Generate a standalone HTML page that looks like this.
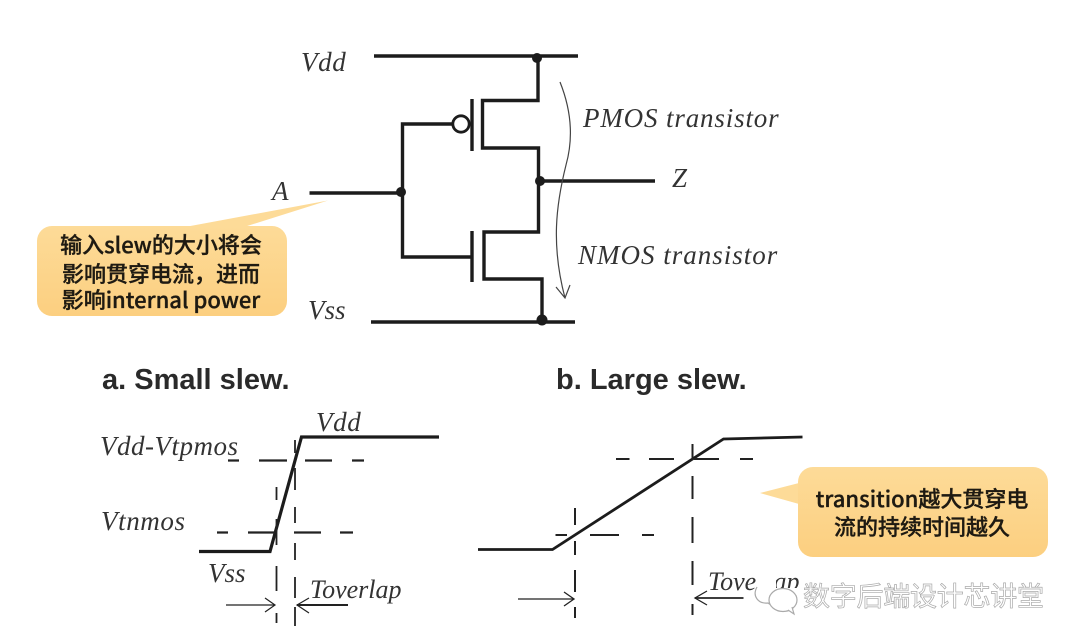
<!DOCTYPE html>
<html>
<head>
<meta charset="utf-8">
<style>
html,body{margin:0;padding:0;background:#fff;width:1080px;height:644px;overflow:hidden}
svg{display:block}
.i{font-family:"Liberation Serif",serif;font-style:italic;fill:#333;font-size:27px}
.t{font-family:"Liberation Sans",sans-serif;font-weight:bold;fill:#2a2a2a;font-size:29px}
.c{font-family:"Noto Sans CJK SC",sans-serif;font-weight:500;fill:#1e1a12;stroke:#1e1a12;stroke-width:.35;font-size:22px;text-anchor:middle}
.w{font-family:"Noto Sans CJK SC",sans-serif;font-size:27px;fill:#fff;stroke:#aaa;stroke-width:.7}
</style>
</head>
<body>
<svg width="1080" height="644" viewBox="0 0 1080 644" xmlns="http://www.w3.org/2000/svg">
<defs>
<linearGradient id="g" x1="0" y1="0" x2="0" y2="1">
<stop offset="0" stop-color="#fddb98"/>
<stop offset="1" stop-color="#fccf80"/>
</linearGradient>
</defs>
<rect width="1080" height="644" fill="#fff"/>

<g fill="none" stroke="#1c1c1c" stroke-width="3.4">
<path d="M374 56H578"/>
<path d="M538 56V100.500H482.500V148H538.500V232H484V279H542V322"/>
<path d="M371 322H575"/>
<path d="M472 99V151M472 231V282"/>
<path d="M453 124H402.500V257H471"/>
<path d="M309.500 193H402"/>
<path d="M540 181H655"/>
<circle cx="461" cy="124" r="8.200" stroke-width="2.800" fill="#fff"/>
</g>
<g fill="#1c1c1c">
<circle cx="537" cy="58" r="5"/>
<circle cx="401" cy="192" r="5"/>
<circle cx="540" cy="181" r="5"/>
<circle cx="542" cy="320" r="5.500"/>
</g>
<path d="M560 82C572 112 573 140 566 165C556 205 551 245 565 298M556 287L565 298L570 285" fill="none" stroke="#444" stroke-width="1.200"/>

<text class="i" x="301" y="71" letter-spacing=".6">Vdd</text>
<text class="i" x="272" y="200">A</text>
<text class="i" x="672" y="187">Z</text>
<text class="i" x="308" y="319">Vss</text>
<text class="i" x="583" y="127" letter-spacing=".85">PMOS transistor</text>
<text class="i" x="578" y="264" letter-spacing="1">NMOS transistor</text>

<path d="M185 227L328 200.500L244 227Z" fill="#fddb98"/>
<rect x="37" y="226" width="250" height="90" rx="15" fill="url(#g)"/>
<text class="c" x="161" y="253">输入slew的大小将会</text>
<text class="c" x="161" y="282">影响贯穿电流，进而</text>
<text class="c" x="161" y="308">影响internal power</text>

<text class="t" x="102" y="389">a. Small slew.</text>
<text class="t" x="556" y="389">b. Large slew.</text>

<path d="M199 551.500H270L301.500 437H439" fill="none" stroke="#1c1c1c" stroke-width="3.200"/>
<g fill="none" stroke="#222" stroke-width="2.200">
<path d="M228 460.500H239M259 460.500H287M305 460.500H332M352 460.500H364"/>
<path d="M217 532.500H228M248 532.500H275M294 532.500H321M340 532.500H353"/>
</g>
<g fill="none" stroke="#222" stroke-width="1.800">
<path d="M276.500 487V500M276.500 519V545M276.500 566V591M276.500 613V623"/>
<path d="M295 440V453M295 468V490M295 507V523M295 543V560M295 577V598M295 607V626"/>
<path d="M226 605H275M265 598L275 605L265 612" stroke-width="1.200"/>
<path d="M348 605H297" stroke-width="2"/>
<path d="M309 598L297 605L309 613" stroke-width="1.200"/>
</g>
<text class="i" x="316" y="431" letter-spacing=".6">Vdd</text>
<text class="i" x="100" y="455" letter-spacing=".5">Vdd-Vtpmos</text>
<text class="i" x="101" y="530" letter-spacing=".6">Vtnmos</text>
<text class="i" x="208" y="582">Vss</text>
<text class="i" x="310" y="598" font-size="26" style="font-size:26px">Toverlap</text>

<path d="M478 549.500H552.500L723.500 439L802.500 437" fill="none" stroke="#1c1c1c" stroke-width="2.800"/>
<g fill="none" stroke="#222" stroke-width="2">
<path d="M616 459H629.500M649 459H674M694 459H719M740 459H753"/>
<path d="M555.500 535H567M590 535H619M642 535H654"/>
<path d="M575 508V525M575 541V555M575 570V592M575 607V618"/>
<path d="M692.500 444V460M692.500 476V499M692.500 517V543M692.500 561V585M692.500 604V615"/>
<path d="M518 599H574M564 592L574 599L564 606" stroke-width="1.300"/>
<path d="M743.500 598H695" stroke-width="1.800"/>
<path d="M707 591L695 598L707 605" stroke-width="1.300"/>
</g>
<text class="i" x="708" y="590" style="font-size:26px">Toverlap</text>
<rect x="756" y="568" width="20" height="26" fill="#fff"/>
<rect x="768" y="588" width="32" height="12" fill="#fff"/>

<path d="M799 483L760 493L799 504Z" fill="#fddb98"/>
<rect x="798" y="467" width="250" height="90" rx="15" fill="url(#g)"/>
<text class="c" x="922" y="507">transition越大贯穿电</text>
<text class="c" x="922" y="535">流的持续时间越久</text>

<g fill="#fff" stroke="#aaa" stroke-width="1.200">
<path d="M757 587C752 596 758 604 768 603L775 608"/>
<ellipse cx="783" cy="600" rx="14" ry="11.500"/>
<path d="M788 610L794 614L792 607"/>
</g>
<text class="w" x="803" y="606" textLength="241">数字后端设计芯讲堂</text>
</svg>
</body>
</html>
